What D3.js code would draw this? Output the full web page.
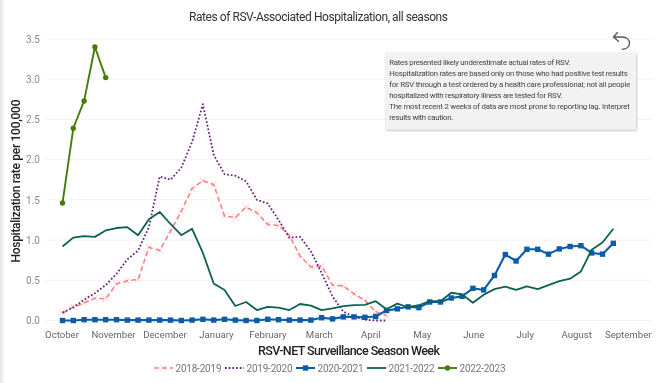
<!DOCTYPE html>
<html><head><meta charset="utf-8">
<script src="https://cdnjs.cloudflare.com/ajax/libs/d3/7.8.5/d3.min.js"></script>
<style>
html,body{margin:0;padding:0;background:#fff;overflow:hidden}
svg{display:block;font-family:Roboto,sans-serif;filter:blur(0.3px)}
</style></head><body><div id="chart"></div>
<script>
const months=["October","November","December","January","February","March","April","May","June","July","August","September"];
const yTicks=[0,0.5,1,1.5,2,2.5,3,3.5];
const s2018=[.09,.17,.22,.275,.27,.455,.495,.51,.91,.87,1.11,1.36,1.64,1.74,1.69,1.30,1.28,1.41,1.34,1.195,1.18,1.06,.80,.665,.675,.44,.43,.33,.25,.11,.06];
const s2019=[.10,.16,.26,.34,.44,.58,.76,.87,1.16,1.79,1.75,1.9,2.22,2.69,2.06,1.82,1.80,1.73,1.50,1.455,1.25,1.03,1.04,.86,.59,.30,.11,.045,.01,0,0];
const s2020=[0,0,.01,.01,.01,.01,.005,.005,.005,.005,.005,0,.005,.015,.005,.015,.005,0,0,.015,.01,.005,.005,.005,.035,.02,.045,.045,.04,.05,.125,.145,.17,.16,.23,.23,.28,.30,.40,.38,.56,.82,.74,.885,.885,.825,.89,.92,.93,.84,.825,.96];
const s2021=[.92,1.03,1.05,1.04,1.12,1.15,1.16,1.06,1.26,1.35,1.2,1.06,1.14,.84,.46,.38,.18,.23,.13,.17,.16,.13,.205,.185,.13,.15,.18,.19,.195,.24,.14,.21,.165,.19,.24,.24,.345,.325,.22,.32,.39,.42,.38,.425,.39,.44,.49,.52,.61,.88,.97,1.14];
const s2022=[1.46,2.39,2.73,3.40,3.02];
const seasons=["2018-2019","2019-2020","2020-2021","2021-2022","2022-2023"];
const noteLines=["Rates presented likely underestimate actual rates of RSV.","Hospitalization rates are based only on those who had positive test results","for RSV through a test ordered by a health care professional; not all people","hospitalized with respiratory illness are tested for RSV.","The most recent 2 weeks of data are most prone to reporting lag. Interpret","results with caution."];

const W=662,H=383;
const svg=d3.select("#chart").append("svg").attr("width",W).attr("height",H);
const defs=svg.append("defs");
const sh=defs.append("filter").attr("id","sh").attr("x","-5%").attr("y","-10%").attr("width","110%").attr("height","125%");
sh.append("feDropShadow").attr("dx",0.5).attr("dy",1).attr("stdDeviation",1.2).attr("flood-color","#000").attr("flood-opacity",.3);
const edge=defs.append("linearGradient").attr("id","edge");
edge.append("stop").attr("offset","0").attr("stop-color","#e4e4e4");
edge.append("stop").attr("offset","1").attr("stop-color","#fff");
svg.append("rect").attr("width",5).attr("height",H).attr("fill","url(#edge)");

const x=d3.scaleLinear().domain([0,51]).range([62.5,613.3]);
const y=d3.scaleLinear().domain([0,3.5]).range([320.5,39]);
const xm=d3.scalePoint().domain(months).range([61.5,627.7]);

svg.append("g").selectAll("line").data(yTicks).join("line")
 .attr("x1",46).attr("x2",652).attr("y1",d=>y(d)).attr("y2",d=>y(d))
 .attr("stroke","#f3f3f3").attr("stroke-width",1);

const yAxis=d3.axisLeft(y).tickValues(yTicks).tickFormat(d3.format(".1f")).tickSize(0).tickPadding(0);
const gy=svg.append("g").attr("transform","translate(40,0)").call(yAxis);
gy.select(".domain").remove();
gy.selectAll("text").attr("fill","#8a8a8a").attr("font-size",10).attr("font-family","Roboto,sans-serif");

const xAxis=d3.axisBottom(xm).tickSize(0).tickPadding(0);
const gx=svg.append("g").attr("transform","translate(0,331)").call(xAxis);
gx.select(".domain").remove();
gx.selectAll("text").attr("fill","#666").attr("font-size",9.6).attr("font-family","Roboto,sans-serif");

const line=d3.line().x((d,i)=>x(i)).y(d=>y(d));
const styles=[
 {data:s2018,color:"#ff7f83",w:1.6,dash:"5 3",marker:"x"},
 {data:s2019,color:"#6a1f78",w:1.8,dash:"1.7 2"},
 {data:s2020,color:"#0b5cab",w:2.1,marker:"square"},
 {data:s2021,color:"#0b6152",w:1.8},
 {data:s2022,color:"#427d0a",w:1.9,marker:"circle"}
];
function drawMarker(g,st,px,py){
 if(st.marker==="x"){
  const r=3.2;
  g.append("path").attr("d",`M${px-r},${py-r}L${px+r},${py+r}M${px-r},${py+r}L${px+r},${py-r}`)
   .attr("stroke",st.color).attr("stroke-width",.7).attr("stroke-opacity",.6).attr("fill","none");
 } else if(st.marker==="square"){
  g.append("rect").attr("x",px-2.7).attr("y",py-2.7).attr("width",5.4).attr("height",5.4).attr("fill",st.color);
 } else if(st.marker==="circle"){
  g.append("circle").attr("cx",px).attr("cy",py).attr("r",2.7).attr("fill",st.color);
 }
}
styles.forEach(st=>{
 const g=svg.append("g");
 g.append("path").attr("d",line(st.data)).attr("fill","none").attr("stroke",st.color)
  .attr("stroke-width",st.w).attr("stroke-dasharray",st.dash||null).attr("stroke-linejoin","round");
 if(st.marker) st.data.forEach((d,i)=>drawMarker(g,st,x(i),y(d)));
});

svg.append("text").attr("x",318.5).attr("y",21).attr("text-anchor","middle").attr("font-size",12).attr("fill","#333")
 .attr("textLength",259).text("Rates of RSV-Associated Hospitalization, all seasons");
svg.append("text").attr("x",349).attr("y",355).attr("text-anchor","middle").attr("font-size",12.5).attr("font-weight",500).attr("fill","#222")
 .attr("textLength",182).text("RSV-NET Surveillance Season Week");
svg.append("text").attr("transform","translate(20,181) rotate(-90)").attr("text-anchor","middle").attr("font-size",12).attr("font-weight",500).attr("fill","#222")
 .attr("textLength",163).text("Hospitalization rate per 100,000");

// legend
const lg=svg.append("g");
const legendX=d3.scaleLinear().domain([0,4]).range([154,438]);
seasons.forEach((s,i)=>{
 const st=styles[i],ly=368;
 const x0=legendX(i), x1=x0+19;
 lg.append("line").attr("x1",x0).attr("x2",x1).attr("y1",ly).attr("y2",ly).attr("stroke",st.color).attr("stroke-width",st.w).attr("stroke-dasharray",st.dash||null);
 if(st.marker) drawMarker(lg,st,(x0+x1)/2,ly);
 lg.append("text").attr("x",x1+2.5).attr("y",ly+3.5).attr("font-size",10).attr("fill","#777").attr("textLength",46).text(s);
});

// note
svg.append("rect").attr("x",386).attr("y",52.5).attr("width",250).attr("height",77).attr("fill","#f2f2f2").attr("filter","url(#sh)");
const noteWidths=[181,238.5,241,173,240.5,64];
svg.append("g").selectAll("text").data(noteLines).join("text")
 .attr("x",389.3).attr("y",(d,i)=>65.3+i*11).attr("font-size",7.8).attr("fill","#444").attr("textLength",(d,i)=>noteWidths[i]).text(d=>d);

// back arrow
svg.append("path").attr("d","M617.7,32.3 L613.5,37 L619,41.7 M613.5,37 H622 C627,37 629.5,40 629.5,43 C629.5,47 626,49.3 621.7,49.3")
 .attr("fill","none").attr("stroke","#555").attr("stroke-width",1.3);
</script></body></html>
